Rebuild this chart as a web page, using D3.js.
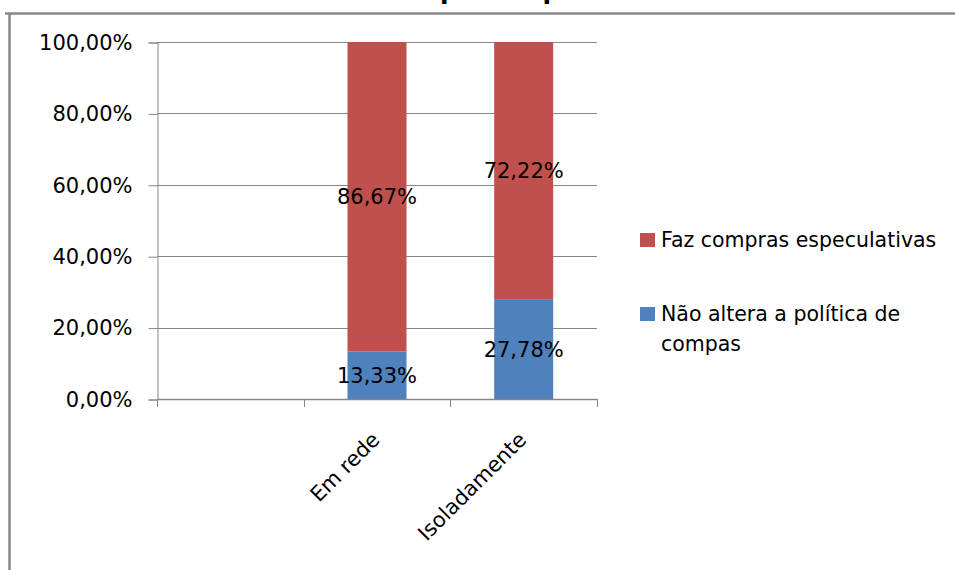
<!DOCTYPE html>
<html>
<head>
<meta charset="utf-8">
<script src="https://cdn.jsdelivr.net/npm/d3@7"></script>
<style>
  html, body { margin: 0; padding: 0; background: #fff; }
  svg { display: block; }
  text { font-family: "DejaVu Sans", sans-serif; }
</style>
</head>
<body>
<svg id="chart" width="955" height="570"></svg>
<script>
// Categories (first slot is left blank on the axis)
const categories = ["", "Em rede", "Isoladamente"];
// Series values in percent, one entry per category
const seriesNames = ["Não altera a política de compas", "Faz compras especulativas"];
const naoAltera = [null, 13.33, 27.78];
const fazCompras = [null, 86.67, 72.22];
const yTicks = [0, 20, 40, 60, 80, 100];
const colors = ["#4F81BD", "#C0504D"];
const title = "Gráfico 6 – Compras especulativas";

const svg = d3.select("#chart");
const W = 955, H = 570;
const plot = { left: 157, right: 597, top: 42, bottom: 399 };

const fmt = v => v.toFixed(2).replace(".", ",") + "%";

// Outer frame (top and left edges)
svg.append("line").attr("x1", 5).attr("x2", W).attr("y1", 13.5).attr("y2", 13.5)
  .attr("stroke", "#888").attr("stroke-width", 2.5);
svg.append("line").attr("x1", 9.5).attr("x2", 9.5).attr("y1", 13).attr("y2", H)
  .attr("stroke", "#888").attr("stroke-width", 2.5);

// Title (sits above the frame, mostly outside the page)
svg.append("text").attr("x", 463).attr("y", -1.5)
  .attr("text-anchor", "middle").attr("font-weight", "bold")
  .attr("font-size", 25).attr("fill", "#000").text(title);

const x = d3.scaleBand().domain(d3.range(categories.length))
  .range([plot.left, plot.right]).paddingInner(0).paddingOuter(0);
const y = d3.scaleLinear().domain([0, 100]).range([plot.bottom, plot.top]);

// Gridlines
svg.append("g").selectAll("line").data(yTicks.filter(t => t > 0)).join("line")
  .attr("x1", plot.left).attr("x2", plot.right)
  .attr("y1", d => Math.round(y(d)) + 0.5).attr("y2", d => Math.round(y(d)) + 0.5)
  .attr("stroke", "#868686").attr("stroke-width", 1);

// Y axis
const yAxis = d3.axisLeft(y).tickValues(yTicks).tickSize(9).tickPadding(16)
  .tickFormat(d => fmt(d));
const gy = svg.append("g").attr("transform", `translate(${plot.left + 0.5},0.5)`).call(yAxis);
gy.select(".domain").attr("stroke", "#868686");
gy.selectAll(".tick line").attr("stroke", "#868686");
gy.selectAll(".tick text").attr("font-size", 21).attr("fill", "#000")
  .attr("font-family", "DejaVu Sans, sans-serif");

// Stacked bars
const stackData = categories.map((c, i) => ({ i, a: naoAltera[i], b: fazCompras[i] }))
  .filter(d => d.a != null);
const barW = 59;
const bars = svg.append("g");
stackData.forEach(d => {
  const cx = x(d.i) + x.bandwidth() / 2;
  const segs = [
    { v0: 0, v1: d.a, c: colors[0] },
    { v0: d.a, v1: d.a + d.b, c: colors[1] }
  ];
  bars.selectAll(null).data(segs).enter().append("rect")
    .attr("x", cx - barW / 2).attr("width", barW)
    .attr("y", s => y(s.v1)).attr("height", s => y(s.v0) - y(s.v1))
    .attr("fill", s => s.c);
  bars.selectAll(null).data(segs).enter().append("text")
    .attr("x", cx).attr("y", s => (y(s.v0) + y(s.v1)) / 2)
    .attr("dy", "0.36em").attr("text-anchor", "middle")
    .attr("font-size", 21).attr("fill", "#000")
    .text(s => fmt(s.v1 - s.v0));
});

// X axis with ticks at category boundaries
const gx = svg.append("g");
gx.append("line").attr("x1", plot.left).attr("x2", plot.right)
  .attr("y1", plot.bottom + 0.5).attr("y2", plot.bottom + 0.5)
  .attr("stroke", "#868686").attr("stroke-width", 1.5);
const bounds = d3.range(categories.length + 1).map(i => i < categories.length ? x(i) : plot.right);
gx.selectAll("line.tk").data(bounds).join("line").attr("class", "tk")
  .attr("x1", d => Math.round(d) + 0.5).attr("x2", d => Math.round(d) + 0.5)
  .attr("y1", plot.bottom).attr("y2", plot.bottom + 8)
  .attr("stroke", "#868686");
gx.selectAll("text").data(categories.map((c, i) => ({ c, i })).filter(d => d.c)).join("text")
  .attr("transform", d => `translate(${x(d.i) + x.bandwidth() / 2 + 4},${plot.bottom + 42}) rotate(-45)`)
  .attr("text-anchor", "end").attr("font-size", 21).attr("fill", "#000")
  .text(d => d.c);

// Legend
const legendItems = [
  { lines: ["Faz compras especulativas"], c: colors[1], y: 233 },
  { lines: ["Não altera a política de", "compas"], c: colors[0], y: 307 }
];
const lg = svg.append("g");
legendItems.forEach(it => {
  lg.append("rect").attr("x", 640).attr("y", it.y).attr("width", 15).attr("height", 14).attr("fill", it.c);
  const t = lg.append("text").attr("x", 661).attr("y", it.y + 14).attr("font-size", 20.5).attr("fill", "#000");
  it.lines.forEach((l, k) => t.append("tspan").attr("x", 661).attr("dy", k ? 30 : 0).text(l));
});
</script>
</body>
</html>
